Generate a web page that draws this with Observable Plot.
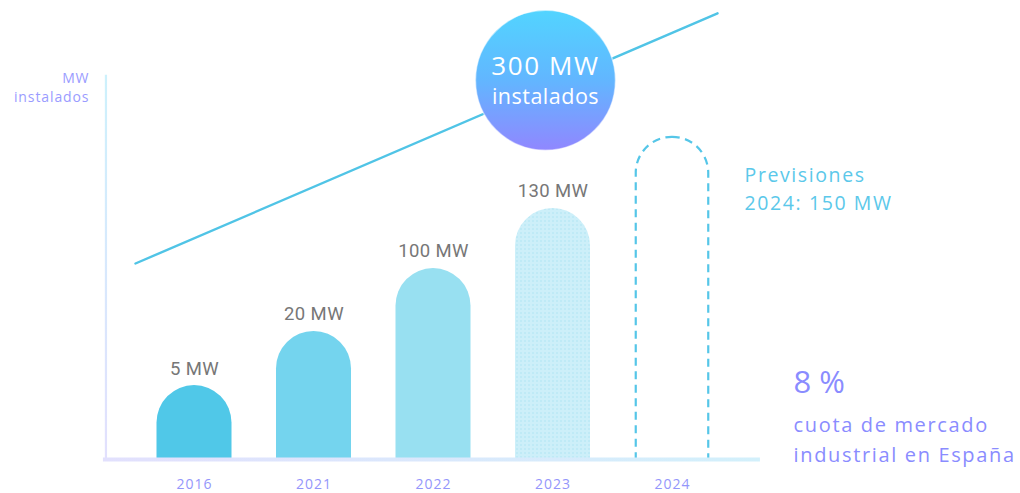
<!DOCTYPE html>
<html>
<head>
<meta charset="utf-8">
<script src="https://cdn.jsdelivr.net/npm/d3@7"></script>
<script src="https://cdn.jsdelivr.net/npm/@observablehq/plot@0.6"></script>
<style>
  html, body { margin: 0; padding: 0; background: #ffffff; }
  #chart { width: 1020px; height: 493px; }
  svg { overflow: visible; }
</style>
</head>
<body>
<div id="chart"></div>
<script>
// ---- data ----
const years = ["2016", "2021", "2022", "2023", "2024"];
const capacityMW = [5, 20, 100, 130, 150];
const valueLabels = ["5 MW", "20 MW", "100 MW", "130 MW", ""];
// heights of the (non-proportional) bars on the chart's unlabelled 0–100 axis
const barLevel = [16.1, 27.9, 41.6, 54.7, 70.2];
// decorative growth line (x in bar slots, y on the 0–100 axis)
const trendSlot = [-0.494, 4.377];
const trendLevel = [42.7, 97.2];
// highlight bubble
const bubbleSlot = [2.937];
const bubbleLevel = [82.6];
const bubbleLines = ["300 MW", "instalados"];
// annotations
const axisTitle = "MW\ninstalados";
const forecastText = "Previsiones\n2024: 150 MW";
const shareValue = "8 %";
const shareText = "cuota de mercado\nindustrial en España";
// axis extents (bar slots / axis units)
const baseSlots = [-0.762, 4.736];
const leftAxisSlot = -0.741;
const leftAxisTop = 83.7;

const bars = years.map((y, i) => ({
  year: y, i, mw: capacityMW[i], h: barLevel[i], label: valueLabels[i]
}));
const trend = trendSlot.map((x, k) => ({x, y: trendLevel[k]}));
const bubble = bubbleSlot.map((x, k) => ({x, y: bubbleLevel[k]}));

const barColors = ["#50c8e8", "#74d4ee", "#98e0f1", "url(#dots)", "none"];

const chart = Plot.plot({
  width: 1020,
  height: 493,
  marginLeft: 134.25,
  marginRight: 288.25,
  marginTop: 0,
  marginBottom: 34,
  x: {type: "linear", domain: [-0.5, 4.5], axis: null},
  y: {type: "linear", domain: [0, 100], axis: null},
  color: {type: "ordinal", domain: years, range: barColors},
  style: {fontFamily: "'Open Sans', sans-serif", background: "transparent", overflow: "visible"},
  marks: [
    // left axis
    Plot.ruleX([leftAxisSlot], {y1: 0, y2: leftAxisTop, stroke: "url(#vgrad)", strokeWidth: 2.2}),
    // bars (rounded tops; bottoms clipped at the baseline)
    Plot.rect(bars.filter(d => d.year !== "2024"), {
      x1: d => d.i - 0.5, x2: d => d.i + 0.5, y1: -20, y2: "h",
      insetLeft: 22.25, insetRight: 22.25,
      fill: "year", rx: 37.5, clip: true
    }),
    // forecast bar (dashed outline)
    Plot.rect(bars.filter(d => d.year === "2024"), {
      x1: d => d.i - 0.5, x2: d => d.i + 0.5, y1: -20, y2: "h",
      insetLeft: 23.5, insetRight: 23.5,
      fill: "none", stroke: "#55c6e8", strokeWidth: 2.2, strokeDasharray: "8,5.5",
      rx: 36, clip: true
    }),
    // baseline
    Plot.ruleY([0], {x1: baseSlots[0], x2: baseSlots[1], stroke: "url(#hgrad)", strokeWidth: 4}),
    // value labels (text mark 0)
    Plot.text(bars.filter(d => d.label), {
      x: "i", y: "h", text: "label", dy: -17,
      fill: "#777777", fontSize: 18.5, fontFamily: "Roboto, sans-serif"
    }),
    // year labels (1)
    Plot.text(bars, {
      x: "i", y: 0, text: "year", dy: 25,
      fill: "#9496fb", fontSize: 14, fontFamily: "'Open Sans', sans-serif"
    }),
    // growth line
    Plot.line(trend, {x: "x", y: "y", stroke: "#50c4e6", strokeWidth: 2.4}),
    // bubble
    Plot.dot(bubble, {x: "x", y: "y", r: 70, fill: "url(#bubble)", stroke: "#ffffff", strokeOpacity: 0.5, strokeWidth: 1.5}),
    // (2)
    Plot.text(bubble, {x: "x", y: "y", text: () => bubbleLines[0], dy: -14,
      fill: "white", fontSize: 26, fontFamily: "'Open Sans', sans-serif"}),
    // (3)
    Plot.text(bubble, {x: "x", y: "y", text: () => bubbleLines[1], dy: 17,
      fill: "white", fontSize: 21.5, fontFamily: "'Open Sans', sans-serif"}),
    // axis title (4)
    Plot.text([axisTitle], {x: -0.879, y: 81.3, text: d => d, textAnchor: "end", lineAnchor: "middle",
      lineHeight: 1.4, fill: "#9a9cff", fontSize: 14}),
    // forecast note (5)
    Plot.text([forecastText], {x: 4.603, y: 59.3, text: d => d, textAnchor: "start", lineAnchor: "middle",
      lineHeight: 1.45, fill: "#5bc8ea", fontSize: 19.5}),
    // market share (6)
    Plot.text([shareValue], {x: 5.013, y: 16.6, text: d => d, textAnchor: "start",
      fill: "#8a8cff", fontSize: 31}),
    // (7)
    Plot.text([shareText], {x: 5.013, y: 4.9, text: d => d, textAnchor: "start", lineAnchor: "middle",
      lineHeight: 1.5, fill: "#8a8cff", fontSize: 20})
  ]
});

// letter spacing per text mark (styling only)
const spacing = ["0.4px", "1px", "1.6px", "0.5px", "0.9px", "1.6px", "0px", "1.65px"];
d3.select(chart).selectAll('g[aria-label="text"]').each(function (_, k) {
  if (spacing[k]) d3.select(this).style("letter-spacing", spacing[k]);
});

// gradients & pattern
const sx = chart.scale("x"), sy = chart.scale("y");
const svg = d3.select(chart);
const defs = svg.insert("defs", ":first-child");
const hg = defs.append("linearGradient").attr("id", "hgrad").attr("gradientUnits", "userSpaceOnUse")
  .attr("x1", sx.apply(baseSlots[0])).attr("x2", sx.apply(baseSlots[1])).attr("y1", 0).attr("y2", 0);
hg.append("stop").attr("offset", 0).attr("stop-color", "#e2e0fd");
hg.append("stop").attr("offset", 1).attr("stop-color", "#d2f0fb");
const vg = defs.append("linearGradient").attr("id", "vgrad").attr("gradientUnits", "userSpaceOnUse")
  .attr("x1", 0).attr("x2", 0).attr("y1", sy.apply(leftAxisTop)).attr("y2", sy.apply(0));
vg.append("stop").attr("offset", 0).attr("stop-color", "#cdf1fc");
vg.append("stop").attr("offset", 1).attr("stop-color", "#e2e0fd");
const bg = defs.append("linearGradient").attr("id", "bubble").attr("x1", 0).attr("x2", 0).attr("y1", 0).attr("y2", 1);
bg.append("stop").attr("offset", 0).attr("stop-color", "#52d4ff");
bg.append("stop").attr("offset", 0.5).attr("stop-color", "#62b6ff");
bg.append("stop").attr("offset", 1).attr("stop-color", "#9087ff");
const pat = defs.append("pattern").attr("id", "dots").attr("patternUnits", "userSpaceOnUse")
  .attr("width", 4).attr("height", 4);
pat.append("rect").attr("width", 4).attr("height", 4).attr("fill", "#cdeff9");
pat.append("circle").attr("cx", 1).attr("cy", 1).attr("r", 0.7).attr("fill", "#a6e1f3");

document.getElementById("chart").appendChild(chart);
</script>
</body>
</html>
